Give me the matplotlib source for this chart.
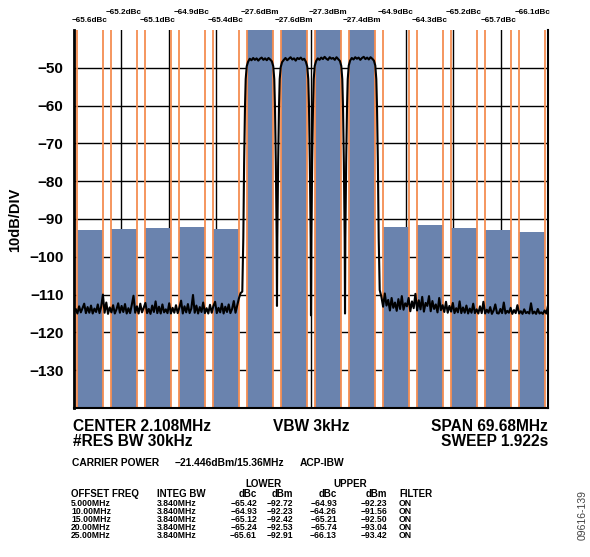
import numpy as np
import matplotlib.pyplot as plt
from matplotlib.transforms import blended_transform_factory

plt.rcParams['font.family'] = 'Liberation Sans'
plt.rcParams['font.weight'] = 'bold'

center_mhz = 2.108
span_mhz = 69.68
integ_bw = 3.84

# carriers (offset from center, MHz) and measured power
carrier_freq = [-7.5, -2.5, 2.5, 7.5]
carrier_dbm = [-27.6, -27.6, -27.3, -27.4]

# adjacent channel table
offset_freq = [5.0, 10.0, 15.0, 20.0, 25.0]
lower_dbc = [-65.42, -64.93, -65.12, -65.24, -65.61]
lower_dbm = [-92.72, -92.23, -92.42, -92.53, -92.91]
upper_dbc = [-64.93, -64.26, -65.21, -65.74, -66.13]
upper_dbm = [-92.23, -91.56, -92.50, -93.04, -93.42]

# analyzer trace
noise_left = [
    -114.6, -113.8, -115.0, -113.1, -114.7, -113.6, -112.4, -114.9, -113.3, -114.8,
    -112.9, -115.0, -113.7, -114.6, -112.6, -114.9, -113.2, -110.0, -114.8, -112.1,
    -115.1, -113.4, -114.7, -112.8, -115.0, -113.9, -112.3, -114.8, -113.0, -114.6,
    -112.5, -115.0, -113.6, -114.9, -112.7, -110.3, -114.8, -113.1, -115.0, -112.4,
    -114.7, -113.5, -112.2, -114.9, -113.8, -115.1, -112.9, -114.6, -111.8, -114.9,
    -113.2, -115.0, -112.6, -114.7, -113.9, -114.9, -112.3, -115.0, -113.5, -114.8,
    -112.8, -114.9, -113.4, -111.6, -115.0, -113.1, -114.7, -112.5, -114.9, -113.7,
    -110.1, -114.8, -112.9, -115.0, -113.3, -114.6, -112.1, -114.9, -113.6, -115.0,
    -112.7, -114.8, -113.0, -111.9, -114.9, -113.5, -114.7, -112.4, -115.0, -113.2,
    -114.6, -112.6, -114.9, -113.8, -111.7, -114.8, -112.9, -111.0, -109.6, -109.2,
]
noise_right = [
    -108.8, -110.6, -113.2, -109.7, -112.9, -111.4, -114.2, -110.9, -113.5, -112.1,
    -114.3, -111.2, -113.8, -110.4, -114.0, -112.3, -113.1, -110.9, -114.4, -111.8,
    -113.6, -109.8, -114.2, -111.5, -113.9, -110.6, -114.5, -112.2, -113.0, -110.4,
    -114.4, -111.7, -113.8, -112.6, -114.7, -110.9, -114.1, -112.8, -114.6, -111.9,
    -114.8, -113.0, -114.5, -112.2, -114.9, -113.6, -114.7, -111.8, -114.9, -113.4,
    -114.8, -112.9, -115.0, -113.7, -114.8, -112.4, -114.9, -113.9, -115.0, -113.1,
    -114.9, -111.9, -115.0, -114.0, -114.8, -113.3, -115.1, -114.2, -112.6, -114.9,
    -115.0, -113.8, -114.9, -112.1, -115.0, -114.3, -114.8, -113.5, -115.1, -114.1,
    -114.9, -112.8, -115.0, -114.4, -115.1, -113.9, -114.9, -114.6, -115.0, -112.3,
    -115.0, -114.5, -115.1, -113.8, -115.0, -114.7, -115.1, -114.2, -115.0, -112.9,
]
carrier_shape_offsets = [-2.45, -2.33, -2.2, -2.1, -1.95, -1.75, -1.5, -1.25, -1.0,
                         -0.75, -0.5, -0.25, 0.0, 0.25, 0.5, 0.75, 1.0, 1.25, 1.5,
                         1.75, 1.95, 2.1, 2.2, 2.33, 2.45]
carrier_levels = [
    [-95, -75, -60, -53, -49.6, -48.4, -47.6, -48.0, -47.4, -47.9, -47.5, -48.1, -47.6,
     -47.3, -47.9, -47.5, -48.0, -47.4, -47.8, -48.3, -49.6, -53, -60, -75, -95],
    [-95, -75, -60, -53, -49.8, -48.5, -47.9, -47.4, -48.0, -47.6, -47.2, -47.8, -47.5,
     -48.1, -47.4, -47.7, -47.3, -47.9, -47.6, -48.4, -49.7, -53, -60, -75, -95],
    [-95, -75, -60, -53, -49.5, -48.2, -47.5, -47.9, -47.3, -47.7, -47.1, -47.6, -47.9,
     -47.2, -47.6, -47.4, -47.9, -47.2, -47.7, -48.2, -49.5, -53, -60, -75, -95],
    [-95, -75, -60, -53, -49.4, -48.1, -47.4, -47.8, -47.2, -47.6, -47.3, -47.9, -47.4,
     -47.1, -47.7, -47.3, -47.8, -47.2, -47.6, -48.1, -49.4, -53, -60, -75, -95],
]
dip_freq = [-5.0, 0.0, 5.0]
dip_level = [-113.0, -115.5, -115.0]

half = span_mhz / 2
ybottom = -140

trace_f = list(np.linspace(-half, -10.1, len(noise_left)))
trace_l = list(noise_left)
for i, c in enumerate(carrier_freq):
    trace_f += [c + o for o in carrier_shape_offsets]
    trace_l += carrier_levels[i]
    if i < len(dip_freq):
        trace_f.append(dip_freq[i])
        trace_l.append(dip_level[i])
trace_f += list(np.linspace(10.1, half, len(noise_right)))
trace_l += noise_right

# channel list in frequency order
lower_freq = [carrier_freq[0] - o for o in offset_freq]
upper_freq = [carrier_freq[-1] + o for o in offset_freq]
chan_freq = lower_freq[::-1] + carrier_freq + upper_freq
chan_dbm = lower_dbm[::-1] + carrier_dbm + upper_dbm
chan_label = ([f'{v:.1f}dBc' for v in lower_dbc[::-1]]
              + [f'{v:.1f}dBm' for v in carrier_dbm]
              + [f'{v:.1f}dBc' for v in upper_dbc])

W, H = 590, 557
fig = plt.figure(figsize=(W / 100, H / 100), dpi=100)
ax = fig.add_axes([74 / W, 1 - 408 / H, 474 / W, 378 / H])

blue = '#6A83AE'
orange = '#F58E52'

ax.bar(chan_freq, np.array(chan_dbm) - ybottom, bottom=ybottom, width=integ_bw,
       color=blue, zorder=1)
for c in chan_freq:
    for e in (c - integ_bw / 2, c + integ_bw / 2):
        ax.axvline(e, color=orange, lw=1.3, zorder=2)
ax.plot(trace_f, trace_l, color='black', lw=1.5, zorder=3)

ax.set_xlim(-half, half)
ax.set_ylim(ybottom, -40)
ax.set_xticks(np.linspace(-half, half, 11)[1:-1])
ax.set_xticklabels([])
ax.set_yticks(range(-130, -40, 10))
ax.tick_params(length=0)
ax.tick_params(axis='y', pad=7.5, labelsize=11)
ax.set_axisbelow(True)
ax.grid(True, color='black', lw=1.0, zorder=0)
ax.spines['top'].set_visible(False)
ax.spines['left'].set_linewidth(2.0)
ax.spines['bottom'].set_linewidth(1.5)
ax.spines['right'].set_linewidth(1.5)

# channel power labels above the plot, two staggered rows
tr = blended_transform_factory(ax.transData, fig.transFigure)
for i, (f, lab) in enumerate(zip(chan_freq, chan_label)):
    y = 22.3 if i % 2 == 0 else 14.0
    ax.text(f, 1 - y / H, lab.replace('-', '\u2212'), transform=tr, ha='center',
            va='baseline', fontsize=5.9, clip_on=False)

fig.text(15 / W, 1 - 220 / H, '10dB/DIV', rotation=90, ha='center', va='center',
         fontsize=10.5)


def ftext(x, y, s, **kw):
    fig.text(x / W, 1 - y / H, s.replace('-', '\u2212') if kw.pop('minus', False) else s,
             va='baseline', **kw)


bs = 11.2
ftext(73, 431, f'CENTER {center_mhz:.3f}MHz', fontsize=bs)
ftext(73, 446, '#RES BW 30kHz', fontsize=bs)
ftext(311, 431, 'VBW 3kHz', fontsize=bs, ha='center')
ftext(548, 431, f'SPAN {span_mhz:.2f}MHz', fontsize=bs, ha='right')
ftext(548, 446, 'SWEEP 1.922s', fontsize=bs, ha='right')

ftext(72, 466, 'CARRIER POWER', fontsize=7.4)
ftext(175, 466, '-21.446dBm/15.36MHz', fontsize=7.4, minus=True)
ftext(300, 466, 'ACP-IBW', fontsize=7.4)

ts = 6.2
ftext(263, 487, 'LOWER', fontsize=7.0, ha='center')
ftext(350, 487, 'UPPER', fontsize=7.0, ha='center')
ftext(71, 497.3, 'OFFSET FREQ', fontsize=7.0)
ftext(157, 497.3, 'INTEG BW', fontsize=7.0)
ftext(257, 497.3, 'dBc', fontsize=7.0, ha='right')
ftext(293, 497.3, 'dBm', fontsize=7.0, ha='right')
ftext(337, 497.3, 'dBc', fontsize=7.0, ha='right')
ftext(387, 497.3, 'dBm', fontsize=7.0, ha='right')
ftext(399, 497.3, 'FILTER', fontsize=7.0)
for i, off in enumerate(offset_freq):
    y = 505.7 + i * 8.15
    ftext(71, y, f'{off:.3f}MHz' if off < 10 else f'{off:.2f}MHz', fontsize=ts)
    ftext(157, y, f'{integ_bw:.3f}MHz', fontsize=ts)
    ftext(257, y, f'{lower_dbc[i]:.2f}', fontsize=ts, ha='right', minus=True)
    ftext(293, y, f'{lower_dbm[i]:.2f}', fontsize=ts, ha='right', minus=True)
    ftext(337, y, f'{upper_dbc[i]:.2f}', fontsize=ts, ha='right', minus=True)
    ftext(387, y, f'{upper_dbm[i]:.2f}', fontsize=ts, ha='right', minus=True)
    ftext(399, y, 'ON', fontsize=ts)

fig.text(583 / W, 1 - 515 / H, '09616-139', rotation=90, ha='center', va='center',
         fontsize=7.5, fontweight='normal', color='#444444')

fig.savefig('out.png', dpi=100)
